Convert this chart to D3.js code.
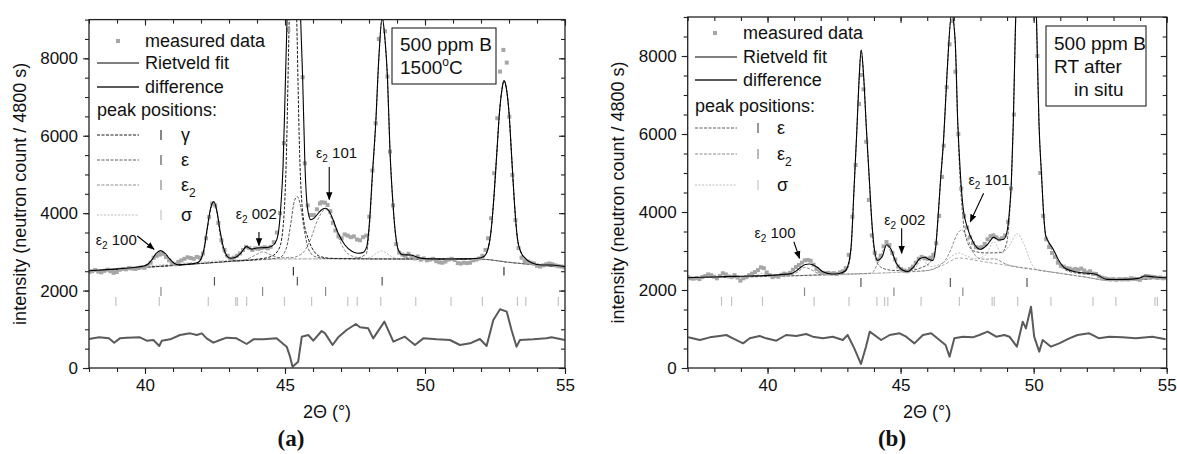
<!DOCTYPE html>
<html lang="en">
<head>
<meta charset="utf-8">
<script src="https://d3js.org/d3.v7.min.js"></script>
<style>
  body { margin: 0; background: #fff; }
  svg text { font-family: "Liberation Sans", Arial, sans-serif; fill: #111; }
</style>
</head>
<body>
<div id="my_dataviz"></div>
<script>

// ---------- panel (a): 500 ppm B, 1500 C ----------
const measuredA = [[38.00,2480],[38.11,2500],[38.22,2530],[38.33,2490],[38.44,2470],[38.55,2510],[38.66,2540],[38.77,2500],[38.88,2460],[38.99,2480],
  [39.10,2540],[39.21,2560],[39.32,2550],[39.43,2580],[39.54,2570],[39.65,2560],[39.76,2580],[39.87,2600],[39.98,2590],[40.09,2640],
  [40.20,2720],[40.31,2850],[40.42,2900],[40.53,2930],[40.64,2950],[40.75,2870],[40.86,2780],[40.97,2700],[41.08,2680],[41.19,2740],
  [41.30,2780],[41.41,2820],[41.52,2860],[41.63,2840],[41.74,2820],[41.85,2870],[41.96,2850],[42.07,2960],[42.18,3350],[42.29,3900],
  [42.40,4250],[42.51,4200],[42.62,3750],[42.73,3300],[42.84,3050],[42.95,2900],[43.06,2820],[43.17,2850],[43.28,2900],[43.39,2960],
  [43.50,3050],[43.61,3130],[43.72,3100],[43.83,3050],[43.94,3090],[44.05,3080],[44.16,3100],[44.27,3120],[44.38,3090],[44.49,3130],
  [44.60,3250],[44.71,3500],[44.82,4000],[44.96,5806],[45.12,8734],[45.26,10500],[45.37,10800],[45.48,10200],[45.63,7512],[45.71,5289],
  [45.81,4200],[45.92,3950],[46.03,3950],[46.14,4100],[46.25,4250],[46.31,4282],[46.43,4271],[46.52,4212],[46.62,4050],[46.71,3750],
  [46.80,3550],[46.91,3400],[47.02,3350],[47.13,3450],[47.24,3420],[47.35,3380],[47.46,3400],[47.57,3320],[47.68,3300],[47.79,3380],
  [47.90,3420],[48.01,3910],[48.12,5100],[48.24,6323],[48.35,8500],[48.46,9500],[48.57,8700],[48.66,7527],[48.75,5589],[48.86,4200],
  [48.97,3200],[49.08,2980],[49.19,2930],[49.30,2900],[49.41,2950],[49.52,2880],[49.63,2830],[49.74,2880],[49.85,2800],[49.96,2830],
  [50.07,2780],[50.18,2800],[50.29,2820],[50.40,2760],[50.51,2730],[50.62,2720],[50.73,2750],[50.84,2800],[50.95,2820],[51.06,2790],
  [51.17,2710],[51.28,2700],[51.39,2720],[51.50,2710],[51.61,2720],[51.72,2780],[51.83,2800],[51.94,2830],[52.05,2900],[52.16,3050],
  [52.25,3350],[52.36,3868],[52.47,5031],[52.58,6452],[52.68,7657],[52.80,8217],[52.92,7889],[53.01,6493],[53.12,4987],[53.23,3824],
  [53.34,3100],[53.45,2850],[53.56,2760],[53.67,2750],[53.78,2720],[53.89,2700],[54.00,2640],[54.11,2620],[54.22,2650],[54.33,2680],
  [54.44,2700],[54.55,2680],[54.66,2650],[54.77,2630],[54.88,2620],[54.99,2600]];

const fitA = [[38.0,2514],[38.5,2535],[39.0,2560],[39.5,2590],[39.9,2625],[40.1,2680],[40.25,2800],[40.4,2960],[40.56,3031],[40.72,2960],
  [40.88,2820],[41.05,2700],[41.2,2665],[41.5,2680],[41.8,2705],[41.95,2760],[42.1,3050],[42.22,3600],[42.34,4120],[42.46,4298],
  [42.57,4050],[42.68,3550],[42.8,3120],[42.92,2900],[43.05,2834],[43.24,2860],[43.45,2990],[43.62,3135],[43.8,3070],[44.0,3100],
  [44.3,3110],[44.5,3140],[44.65,3230],[44.76,3479],[44.85,4169],[44.93,5202],[45.0,7000],[45.08,9200],[45.3,13000],[45.55,9200],
  [45.63,7500],[45.71,5300],[45.8,4150],[45.92,3830],[46.05,3880],[46.2,4010],[46.35,4110],[46.45,4127],[46.58,4050],[46.7,3860],
  [46.9,3479],[47.14,3178],[47.4,3010],[47.6,2965],[47.78,2980],[47.92,3135],[48.02,3800],[48.12,5000],[48.24,6323],[48.35,8000],
  [48.47,9050],[48.57,8500],[48.66,7500],[48.75,5600],[48.85,4300],[48.95,3450],[49.05,3048],[49.2,2925],[49.5,2920],[49.8,2845],
  [50.2,2818],[50.8,2816],[51.4,2820],[51.9,2834],[52.1,2880],[52.25,3080],[52.36,3550],[52.46,4400],[52.56,5500],[52.66,6600],
  [52.75,7200],[52.82,7424],[52.9,7250],[53.0,6600],[53.1,5400],[53.2,4200],[53.3,3350],[53.42,3000],[53.55,2860],[53.8,2722],
  [54.17,2662],[54.52,2662],[55.0,2618]];

const diffA = [[38.0,749],[38.36,792],[38.71,766],[38.9,654],[39.1,766],[39.35,784],[39.82,792],[40.06,706],[40.3,723],[40.51,568],
  [40.6,706],[40.9,740],[41.25,852],[41.61,895],[41.85,852],[42.03,895],[42.2,766],[42.44,654],[42.68,723],[42.92,784],
  [43.27,766],[43.63,620],[43.87,740],[44.23,740],[44.7,766],[44.94,620],[45.06,551],[45.18,293],[45.27,34],[45.47,164],
  [45.6,809],[45.83,852],[46.01,706],[46.31,956],[46.43,895],[46.7,594],[46.9,792],[47.2,981],[47.53,1137],[47.68,1051],
  [47.97,1025],[48.15,766],[48.55,1197],[48.87,680],[49.28,809],[49.64,594],[49.94,766],[50.42,740],[50.89,723],[51.25,594],
  [51.61,637],[51.96,749],[52.2,568],[52.44,1241],[52.68,1516],[52.92,1456],[53.09,981],[53.27,551],[53.39,723],[53.87,740],
  [54.34,766],[54.52,792],[55.0,723]];

const backgroundA = [[38,2500],[39,2545],[40,2600],[41,2650],[42,2700],[43,2750],[44,2790],[45,2817],[46,2820],[48,2817],
  [50,2815],[52,2810],[53,2730],[54,2660],[55,2600]];

const gammaA = [[38,2500],[40,2600],[42,2700],[43,2755],[44,2810],[44.5,2880],[44.8,3100],[44.95,3800],[45.05,5500],[45.15,9000],
  [45.3,13000],[45.42,9000],[45.52,5600],[45.65,3900],[45.85,3300],[46.05,3000],[46.3,2870],[46.7,2830],[47.5,2820],[50,2815],
  [51.9,2825],[52.1,2870],[52.25,3080],[52.36,3550],[52.46,4400],[52.56,5500],[52.66,6600],[52.75,7200],[52.82,7424],[52.9,7250],
  [53.0,6600],[53.1,5400],[53.2,4200],[53.3,3350],[53.42,3000],[53.55,2850],[53.8,2715],[54.2,2665],[55,2600]];

const epsA = [[38,2500],[40,2600],[41.5,2680],[41.9,2720],[42.1,3000],[42.22,3550],[42.34,4080],[42.46,4250],[42.57,4000],[42.68,3450],
  [42.8,3050],[42.95,2830],[43.3,2770],[44,2795],[44.8,2850],[45.05,3100],[45.2,3700],[45.33,4300],[45.44,4427],[45.55,4200],
  [45.68,3600],[45.85,3050],[46.1,2870],[46.5,2830],[47.5,2830],[47.9,2950],[48.02,3700],[48.12,4900],[48.24,6300],[48.35,7950],
  [48.47,9050],[48.57,8500],[48.66,7450],[48.75,5600],[48.85,4300],[48.95,3400],[49.1,2950],[49.4,2840],[50,2815],[52,2810],
  [53,2730],[55,2600]];

const eps2A = [[38,2500],[40,2600],[40.2,2700],[40.4,2900],[40.56,2990],[40.72,2900],[40.92,2740],[41.2,2660],[42,2700],[43,2750],
  [43.6,2800],[43.9,2900],[44.2,3000],[44.5,2920],[44.8,2850],[45.2,2850],[45.6,2950],[45.9,3300],[46.15,3800],[46.45,4100],
  [46.7,3800],[46.95,3300],[47.2,2980],[47.6,2850],[48,2820],[50,2815],[52,2810],[53,2730],[55,2600]];

const sigmaA = [[38,2500],[45,2817],[47.8,2820],[48.1,2880],[48.3,2980],[48.45,3023],[48.6,2980],[48.8,2880],[49.1,2820],[52,2810],
  [53,2730],[55,2600]];

const ticksGammaA = [45.3, 52.82];
const ticksEpsA = [42.48, 45.44, 48.47];
const ticksEps2A = [40.57, 44.2, 46.45];
const ticksSigmaA = [38.96, 40.51, 42.26, 43.24, 43.3, 43.63, 44.98, 45.95, 47.24, 47.58, 48.42, 49.67, 50.93, 52.05, 53.3, 53.6, 54.76];

// ---------- panel (b): 500 ppm B, RT after in situ ----------
const measuredB = [[37.00,2330],[37.11,2300],[37.22,2290],[37.33,2310],[37.44,2280],[37.55,2330],[37.66,2360],[37.77,2400],[37.88,2380],[37.99,2340],
  [38.10,2300],[38.21,2360],[38.32,2430],[38.43,2400],[38.54,2350],[38.65,2330],[38.76,2380],[38.87,2320],[38.98,2240],[39.09,2300],
  [39.20,2330],[39.31,2380],[39.42,2420],[39.53,2460],[39.64,2510],[39.75,2580],[39.86,2560],[39.97,2450],[40.08,2380],[40.19,2330],
  [40.30,2360],[40.41,2340],[40.52,2390],[40.63,2420],[40.74,2400],[40.85,2440],[40.96,2520],[41.07,2590],[41.18,2640],[41.29,2700],
  [41.40,2760],[41.51,2770],[41.62,2750],[41.73,2650],[41.84,2540],[41.95,2480],[42.06,2440],[42.17,2430],[42.28,2440],[42.39,2420],
  [42.50,2430],[42.61,2410],[42.72,2450],[42.83,2480],[42.94,2560],[43.05,2900],[43.19,3880],[43.31,5205],[43.44,6769],[43.52,7512],
  [43.61,7145],[43.71,5802],[43.81,4308],[43.92,3400],[44.03,2950],[44.14,2780],[44.25,2880],[44.36,3120],[44.47,3230],[44.58,3150],
  [44.69,2950],[44.80,2780],[44.91,2600],[45.02,2540],[45.13,2500],[45.24,2480],[45.35,2540],[45.46,2600],[45.57,2700],[45.68,2800],
  [45.79,2850],[45.90,2820],[46.01,2800],[46.12,2830],[46.23,2900],[46.34,3200],[46.45,3900],[46.56,4900],[46.62,5700],[46.73,7200],
  [46.84,8300],[46.95,8900],[47.06,7597],[47.17,6000],[47.28,4600],[47.39,3900],[47.50,3600],[47.61,3350],[47.72,3200],[47.83,3100],
  [47.94,3080],[48.05,3100],[48.16,3180],[48.27,3300],[48.38,3380],[48.49,3400],[48.60,3350],[48.71,3300],[48.82,3330],[48.93,3400],
  [49.04,3750],[49.15,4600],[49.26,6500],[49.37,9500],[49.48,12000],[49.59,14000],[49.70,15000],[49.81,14000],[49.92,12000],[50.03,10000],
  [50.14,8000],[50.25,5000],[50.36,3900],[50.47,3300],[50.58,3100],[50.69,2950],[50.80,2850],[50.91,2700],[51.02,2620],[51.13,2600],
  [51.24,2560],[51.35,2550],[51.46,2520],[51.57,2540],[51.68,2520],[51.79,2550],[51.90,2500],[52.01,2450],[52.12,2480],[52.23,2420],
  [52.34,2410],[52.45,2350],[52.56,2320],[52.67,2300],[52.78,2280],[52.89,2270],[53.00,2280],[53.11,2260],[53.22,2280],[53.33,2270],
  [53.44,2280],[53.55,2270],[53.66,2300],[53.77,2290],[53.88,2280],[53.99,2260],[54.10,2320],[54.21,2360],[54.32,2350],[54.43,2340],
  [54.54,2330],[54.65,2310],[54.76,2320],[54.87,2300],[54.98,2310]];

const fitB = [[37.0,2316],[37.5,2325],[38.0,2335],[38.5,2345],[39.0,2352],[39.5,2362],[40.0,2375],[40.5,2395],[40.89,2420],[41.1,2500],
  [41.26,2590],[41.42,2655],[41.57,2667],[41.72,2640],[41.885,2575],[42.1,2460],[42.4,2412],[42.7,2425],[42.9,2480],[43.01,2598],
  [43.14,3111],[43.26,4736],[43.35,6000],[43.44,7400],[43.52,8150],[43.61,7500],[43.71,6200],[43.82,4900],[43.9,3950],[43.99,3190],
  [44.135,2760],[44.32,2870],[44.47,3160],[44.635,3050],[44.82,2720],[45.07,2513],[45.27,2475],[45.5,2600],[45.72,2800],[45.9,2840],
  [46.05,2790],[46.21,2760],[46.32,3100],[46.4,3795],[46.5,4800],[46.62,5900],[46.75,7600],[46.92,9100],[47.05,8400],[47.15,6274],
  [47.25,4950],[47.35,4100],[47.5,3624],[47.75,3197],[48.0,3043],[48.25,3154],[48.5,3350],[48.685,3282],[48.87,3299],[49.0,3500],
  [49.08,3950],[49.16,4735],[49.235,6274],[49.31,8582],[49.5,13000],[49.72,15000],[49.95,13000],[50.12,8582],[50.2,6300],[50.3,4900],
  [50.38,3900],[50.45,3400],[50.56,3240],[50.75,3026],[50.935,2769],[51.185,2556],[51.56,2470],[52.06,2427],[52.31,2410],[52.75,2273],
  [53.1,2270],[53.435,2273],[53.935,2299],[54.185,2359],[54.435,2342],[54.935,2316],[55.0,2316]];

const diffB = [[37.02,786],[37.46,718],[37.83,786],[38.2,821],[38.45,846],[38.7,761],[39.08,632],[39.33,761],[39.7,821],[39.95,761],
  [40.33,701],[40.7,846],[41.08,821],[41.45,872],[41.7,803],[42.08,761],[42.45,803],[42.83,718],[43.01,846],[43.26,504],
  [43.51,103],[43.7,547],[43.84,932],[44.27,718],[44.59,846],[44.96,889],[45.21,803],[45.52,632],[45.84,846],[46.15,889],
  [46.46,718],[46.69,590],[46.84,291],[47.02,761],[47.34,803],[47.71,786],[47.96,846],[48.27,932],[48.59,803],[48.9,846],
  [49.09,803],[49.37,547],[49.59,1188],[49.71,1017],[49.9,1573],[50.02,803],[50.21,419],[50.34,718],[50.65,547],[50.96,632],
  [51.34,761],[51.65,846],[52.09,889],[52.46,761],[52.84,803],[53.34,786],[53.84,761],[54.46,803],[54.96,735]];

const backgroundB = [[37,2316],[39,2340],[41,2370],[43,2410],[44,2430],[45,2455],[46,2496],[46.6,2640],[47.2,2820],[48,2737],
  [49,2634],[50,2531],[51,2428],[52,2325],[52.8,2245],[53.5,2262],[54,2300],[54.2,2350],[54.5,2338],[55,2316]];

const epsB = [[37,2316],[42,2390],[42.8,2420],[43.01,2560],[43.14,3050],[43.26,4700],[43.35,6000],[43.44,7400],[43.52,8150],[43.61,7500],
  [43.71,6200],[43.82,4850],[43.9,3900],[43.99,3100],[44.135,2680],[44.4,2540],[44.8,2500],[45.3,2500],[45.8,2580],[46.1,2700],
  [46.3,3050],[46.4,3750],[46.5,4800],[46.62,5900],[46.75,7600],[46.92,9100],[47.05,8400],[47.15,6200],[47.25,4700],[47.35,3800],
  [47.5,3250],[47.75,3000],[48.2,2950],[48.8,2960],[49.0,3250],[49.08,3800],[49.16,4700],[49.235,6274],[49.31,8582],[49.5,13000],
  [49.72,15000],[49.95,13000],[50.12,8582],[50.2,6300],[50.3,4900],[50.38,3900],[50.45,3400],[50.56,3200],[50.75,2950],[50.935,2700],
  [51.185,2520],[51.56,2440],[52.06,2400],[52.31,2380],[52.75,2265],[53.5,2262],[55,2316]];

const eps2B = [[37,2316],[40.8,2380],[41.1,2450],[41.4,2580],[41.7,2500],[42.0,2400],[43,2410],[43.9,2430],[44.15,2700],[44.3,2950],
  [44.47,3150],[44.65,2950],[44.85,2650],[45.1,2470],[46,2500],[46.6,2700],[46.9,3050],[47.1,3400],[47.3,3540],[47.5,3350],
  [47.7,3000],[48,2800],[48.3,2790],[48.5,2800],[49,2650],[50,2531],[52,2325],[52.8,2245],[55,2316]];

const sigmaB = [[37,2316],[39.5,2350],[39.8,2430],[40.1,2360],[44.5,2440],[45.5,2520],[45.8,2780],[46.1,2600],[46.6,2700],[47.0,2900],
  [47.2,2950],[47.45,2880],[47.8,2800],[48.2,2900],[48.5,3240],[48.8,2950],[49.1,3150],[49.37,3445],[49.65,3150],[49.9,2700],
  [50.2,2500],[50.6,2470],[52,2325],[52.8,2245],[55,2316]];

const ticksEpsB = [43.51, 46.87, 49.75];
const ticksEps2B = [41.39, 44.75, 47.34];
const ticksSigmaB = [38.27, 38.65, 39.81, 41.75, 43.06, 44.11, 44.4, 44.52, 45.77, 47.21, 48.44, 48.52, 49.4, 50.65, 52.23, 53.09, 54.56, 54.65];

// phase styles (shared)
const phaseStyle = {
  gamma: {stroke: "#1a1a1a", dash: "3,1.5", tick: "#333"},
  eps:   {stroke: "#5a5a5a", dash: "3,1.5", tick: "#555"},
  eps2:  {stroke: "#8c8c8c", dash: "3,1.5", tick: "#8a8a8a"},
  sigma: {stroke: "#bdbdbd", dash: "2,1.5", tick: "#c4c4c4"}
};

const W = 1177, H = 454;
const svg = d3.select("#my_dataviz")
  .append("svg")
    .attr("width", W)
    .attr("height", H);

svg.append("defs").append("marker")
    .attr("id", "arrowhead")
    .attr("viewBox", "0 0 10 10")
    .attr("refX", 9).attr("refY", 5)
    .attr("markerWidth", 8).attr("markerHeight", 8)
    .attr("markerUnits", "userSpaceOnUse")
    .attr("orient", "auto")
  .append("path")
    .attr("d", "M0,1 L10,5 L0,9 Z")
    .attr("fill", "#000");

function drawPanel(p) {
  const x = d3.scaleLinear().domain(p.xDomain).range([p.left, p.right]);
  const y = d3.scaleLinear().domain([0, 9000]).range([p.bottom, p.top]);

  svg.append("clipPath").attr("id", "clip" + p.id)
    .append("rect")
      .attr("x", p.left).attr("y", p.top)
      .attr("width", p.right - p.left).attr("height", p.bottom - p.top);

  const plot = svg.append("g").attr("clip-path", `url(#clip${p.id})`);
  const smooth = d3.line().x(d => x(d[0])).y(d => y(d[1])).curve(d3.curveMonotoneX);
  const straight = d3.line().x(d => x(d[0])).y(d => y(d[1]));

  // background
  plot.append("path").datum(p.background)
    .attr("d", smooth).attr("fill", "none")
    .attr("stroke", "#a8a8a8").attr("stroke-width", 1).attr("stroke-dasharray", "3,2");

  // phase components (lightest first)
  p.phases.slice().reverse().forEach(ph => {
    const st = phaseStyle[ph.key];
    plot.append("path").datum(ph.curve)
      .attr("d", smooth).attr("fill", "none")
      .attr("stroke", st.stroke).attr("stroke-width", 1).attr("stroke-dasharray", st.dash);
  });

  // measured data
  plot.selectAll(null).data(p.measured).enter().append("rect")
    .attr("x", d => x(d[0]) - 2).attr("y", d => y(d[1]) - 2)
    .attr("width", 4).attr("height", 4)
    .attr("fill", "#a6a6a6");

  // Rietveld fit
  plot.append("path").datum(p.fit)
    .attr("d", smooth).attr("fill", "none")
    .attr("stroke", "#000").attr("stroke-width", 1.1);

  // difference
  plot.append("path").datum(p.diff)
    .attr("d", straight).attr("fill", "none")
    .attr("stroke", "#5a5a5a").attr("stroke-width", 2).attr("stroke-linejoin", "round");

  // peak position ticks
  p.phases.forEach(ph => {
    plot.selectAll(null).data(ph.ticks).enter().append("line")
      .attr("x1", d => x(d)).attr("x2", d => x(d))
      .attr("y1", ph.row[0]).attr("y2", ph.row[1])
      .attr("stroke", phaseStyle[ph.key].tick).attr("stroke-width", 1.2);
  });

  // axes
  const axes = svg.append("g").attr("class", "axes");
  const xMinor = d3.range(Math.ceil(p.xDomain[0]), p.xDomain[1] + 0.01, 1);
  const xMajor = [40, 45, 50, 55];
  const yMinor = d3.range(0, 9001, 500);
  const yMajor = [0, 2000, 4000, 6000, 8000];

  function styleAxis(sel) {
    sel.select(".domain").remove();
    sel.selectAll("line").attr("stroke", "#222").attr("stroke-width", 1.1);
    sel.selectAll("text").attr("font-size", 17).attr("fill", "#111")
      .attr("font-family", "'Liberation Sans', Arial, sans-serif");
  }

  axes.append("g").attr("transform", `translate(0,${p.bottom})`)
    .call(d3.axisBottom(x).tickValues(xMinor).tickSize(4).tickFormat("")).call(styleAxis);
  axes.append("g").attr("transform", `translate(0,${p.bottom})`)
    .call(d3.axisBottom(x).tickValues(xMajor).tickSize(6).tickPadding(5).tickFormat(d3.format("d"))).call(styleAxis);
  axes.append("g").attr("transform", `translate(0,${p.top})`)
    .call(d3.axisTop(x).tickValues(xMinor).tickSize(-4).tickFormat("")).call(styleAxis);
  axes.append("g").attr("transform", `translate(0,${p.top})`)
    .call(d3.axisTop(x).tickValues(xMajor).tickSize(-6).tickFormat("")).call(styleAxis);

  axes.append("g").attr("transform", `translate(${p.left},0)`)
    .call(d3.axisLeft(y).tickValues(yMinor).tickSize(4).tickFormat("")).call(styleAxis);
  axes.append("g").attr("transform", `translate(${p.left},0)`)
    .call(d3.axisLeft(y).tickValues(yMajor).tickSize(6).tickPadding(5).tickFormat(d3.format("d"))).call(styleAxis);
  axes.append("g").attr("transform", `translate(${p.right},0)`)
    .call(d3.axisRight(y).tickValues(yMinor).tickSize(-4).tickFormat("")).call(styleAxis);
  axes.append("g").attr("transform", `translate(${p.right},0)`)
    .call(d3.axisRight(y).tickValues(yMajor).tickSize(-6).tickFormat("")).call(styleAxis);

  // frame
  axes.append("rect")
    .attr("x", p.left).attr("y", p.top)
    .attr("width", p.right - p.left).attr("height", p.bottom - p.top)
    .attr("fill", "none").attr("stroke", "#222").attr("stroke-width", 1.3);

  // axis titles
  svg.append("text")
    .attr("x", (p.left + p.right) / 2).attr("y", 418)
    .attr("text-anchor", "middle").attr("font-size", 18)
    .text("2\u0398 (\u00B0)");
  svg.append("text")
    .attr("transform", `translate(${p.yTitleX},${(p.top + p.bottom) / 2}) rotate(-90)`)
    .attr("text-anchor", "middle").attr("font-size", 18)
    .text("intensity (neutron count / 4800 s)");

  // panel letter
  svg.append("text")
    .attr("x", p.letterX).attr("y", 446)
    .attr("text-anchor", "middle")
    .attr("font-family", "'Liberation Serif', 'DejaVu Serif', serif")
    .attr("font-weight", "bold").attr("font-size", 23)
    .style("font-family", "'Liberation Serif', 'DejaVu Serif', serif")
    .text(p.letter);

  // legend
  const lg = svg.append("g").attr("font-size", 18);
  const L = p.legend;
  lg.append("rect").attr("x", L.marker - 2).attr("y", L.rows[0] - 2).attr("width", 4).attr("height", 4).attr("fill", "#a6a6a6");
  lg.append("line").attr("x1", L.lineX[0]).attr("x2", L.lineX[1]).attr("y1", L.rows[1]).attr("y2", L.rows[1])
    .attr("stroke", "#000").attr("stroke-width", 1.1);
  lg.append("line").attr("x1", L.lineX[0]).attr("x2", L.lineX[1]).attr("y1", L.rows[2]).attr("y2", L.rows[2])
    .attr("stroke", "#5a5a5a").attr("stroke-width", 2);
  ["measured data", "Rietveld fit", "difference"].forEach((t, i) => {
    lg.append("text").attr("x", L.textX).attr("y", L.rows[i]).attr("dy", "0.35em").text(t);
  });
  lg.append("text").attr("x", L.lineX[0]).attr("y", L.rows[3]).attr("dy", "0.35em").text("peak positions:");
  p.phases.forEach((ph, i) => {
    const yy = L.rows[4 + i];
    const st = phaseStyle[ph.key];
    lg.append("line").attr("x1", L.lineX[0]).attr("x2", L.lineX[1]).attr("y1", yy).attr("y2", yy)
      .attr("stroke", st.stroke).attr("stroke-width", 1).attr("stroke-dasharray", st.dash);
    lg.append("line").attr("x1", L.tickX).attr("x2", L.tickX).attr("y1", yy - 5).attr("y2", yy + 5)
      .attr("stroke", st.tick).attr("stroke-width", 1.2);
    const t = lg.append("text").attr("x", L.labelX).attr("y", yy).attr("dy", "0.35em");
    t.append("tspan").text(ph.label);
    if (ph.sub) t.append("tspan").attr("font-size", 12).attr("dy", 6).text(ph.sub);
  });

  // condition box
  const B = p.box;
  svg.append("rect").attr("x", B.x).attr("y", B.y).attr("width", B.w).attr("height", B.h)
    .attr("fill", "#fff").attr("stroke", "#222").attr("stroke-width", 1.1);
  B.lines.forEach((ln, i) => {
    const t = svg.append("text").attr("x", B.x + ln.dx).attr("y", B.y + B.first + i * 23).attr("font-size", 19);
    ln.parts.forEach(pt => {
      const s = t.append("tspan").text(pt.t);
      if (pt.sup) s.attr("font-size", 12).attr("dy", -8);
      if (pt.after) s.attr("dy", 8);
    });
  });

  // peak annotations (text anchored in data units)
  p.notes.forEach(n => {
    const t = svg.append("text").attr("x", x(n.at[0])).attr("y", y(n.at[1])).attr("font-size", 15);
    t.append("tspan").attr("font-size", 14).text("\u03B5");
    t.append("tspan").attr("font-size", 10).attr("dy", 4).text("2");
    t.append("tspan").attr("dy", -4).text(" " + n.hkl);
    svg.append("line")
      .attr("x1", x(n.from[0])).attr("y1", y(n.from[1]))
      .attr("x2", x(n.to[0])).attr("y2", y(n.to[1]))
      .attr("stroke", "#000").attr("stroke-width", 1.1)
      .attr("marker-end", "url(#arrowhead)");
  });
}

drawPanel({
  id: "a", letter: "(a)", letterX: 291, yTitleX: 26,
  left: 89, right: 565, top: 19.6, bottom: 368, xDomain: [38, 55],
  measured: measuredA, fit: fitA, diff: diffA, background: backgroundA,
  phases: [
    {key: "gamma", label: "\u03B3", curve: gammaA, ticks: ticksGammaA, row: [267, 275.5]},
    {key: "eps", label: "\u03B5", curve: epsA, ticks: ticksEpsA, row: [277, 285.5]},
    {key: "eps2", label: "\u03B5", sub: "2", curve: eps2A, ticks: ticksEps2A, row: [287, 296]},
    {key: "sigma", label: "\u03C3", curve: sigmaA, ticks: ticksSigmaA, row: [297, 306]}
  ],
  legend: {marker: 118, textX: 145, lineX: [97, 139], tickX: 161, labelX: 181, rows: [41, 63, 87, 110, 135, 160, 185, 215]},
  box: {x: 392, y: 28, w: 104, h: 56, first: 23, lines: [
    {dx: 8, parts: [{t: "500 ppm B"}]},
    {dx: 8, parts: [{t: "1500"}, {t: "o", sup: true}, {t: "C", after: true}]}
  ]},
  notes: [
    {hkl: "100", at: [38.24, 3178], from: [39.725, 3411], to: [40.32, 3067]},
    {hkl: "002", at: [43.24, 3850], from: [44.07, 3514], to: [44.07, 3165]},
    {hkl: "101", at: [46.11, 5426], from: [46.58, 5194], to: [46.58, 4354]}
  ]
});

drawPanel({
  id: "b", letter: "(b)", letterX: 892, yTitleX: 624,
  left: 687.7, right: 1166.7, top: 17, bottom: 368, xDomain: [37, 55],
  measured: measuredB, fit: fitB, diff: diffB, background: backgroundB,
  phases: [
    {key: "eps", label: "\u03B5", curve: epsB, ticks: ticksEpsB, row: [278, 287]},
    {key: "eps2", label: "\u03B5", sub: "2", curve: eps2B, ticks: ticksEps2B, row: [287.5, 296]},
    {key: "sigma", label: "\u03C3", curve: sigmaB, ticks: ticksSigmaB, row: [297, 306]}
  ],
  legend: {marker: 715, textX: 743, lineX: [695, 737], tickX: 758, labelX: 777, rows: [33, 57, 80, 106, 128, 154, 185]},
  box: {x: 1046, y: 26, w: 100, h: 80, first: 24, lines: [
    {dx: 8, parts: [{t: "500 ppm B"}]},
    {dx: 8, parts: [{t: "RT after"}]},
    {dx: 28, parts: [{t: "in situ"}]}
  ]},
  notes: [
    {hkl: "100", at: [39.51, 3333], from: [40.99, 3238], to: [41.2, 2813]},
    {hkl: "002", at: [44.39, 3667], from: [45.04, 3582], to: [45.04, 2941]},
    {hkl: "101", at: [47.55, 4692], from: [48.12, 4479], to: [47.62, 3751]}
  ]
});

</script>
</body>
</html>
